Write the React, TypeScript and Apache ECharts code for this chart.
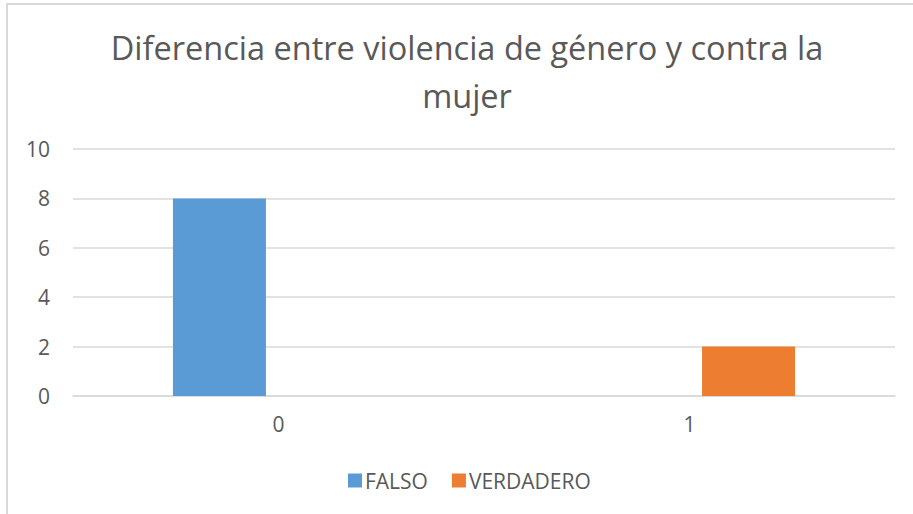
import React, { useEffect, useRef } from "react";
import * as echarts from "echarts";

const titleText = "Diferencia entre violencia de género y contra la\nmujer";
const categories = ["0", "1"];
const seriesNames = ["FALSO", "VERDADERO"];
const falsoValues = [8, 0];
const verdaderoValues = [0, 2];
const yTicks = { min: 0, max: 10, interval: 2 };

const FONT = "'Open Sans', 'Liberation Sans', sans-serif";
const TEXT = "#595959";
const GRID = "#D9D9D9";

export default function App() {
  const ref = useRef<HTMLDivElement>(null);
  useEffect(() => {
    if (!ref.current) return;
    const chart = echarts.init(ref.current, undefined, { renderer: "svg" });
    chart.setOption({
      animation: false,
      textStyle: { fontFamily: FONT },
      graphic: [
        {
          type: "rect",
          shape: { x: 7, y: 4, width: 1000, height: 1000 },
          style: { fill: "none", stroke: "#D9D9D9", lineWidth: 2 },
          silent: true,
        },
        {
          type: "text",
          x: 467,
          y: 23,
          style: {
            text: titleText,
            fill: TEXT,
            fontSize: 32.5,
            fontFamily: FONT,
            lineHeight: 48,
            textAlign: "center",
            textVerticalAlign: "top",
          },
        },
      ],
      legend: {
        data: seriesNames,
        left: 348,
        top: 470,
        padding: 0,
        itemWidth: 14,
        itemHeight: 14,
        itemGap: 24,
        icon: "rect",
        textStyle: { color: TEXT, fontSize: 21, fontFamily: FONT, padding: [0, 0, 0, -2] },
      },
      grid: { left: 73, right: 18, top: 149, bottom: 118, containLabel: false },
      xAxis: {
        type: "category",
        data: categories,
        axisLine: { show: true, lineStyle: { color: GRID, width: 1.5 } },
        axisTick: { show: false },
        axisLabel: { color: TEXT, fontSize: 21, fontFamily: FONT, margin: 17 },
      },
      yAxis: {
        type: "value",
        min: yTicks.min,
        max: yTicks.max,
        interval: yTicks.interval,
        axisLine: { show: false },
        axisTick: { show: false },
        splitLine: { lineStyle: { color: GRID, width: 1.5 } },
        axisLabel: { color: TEXT, fontSize: 21, fontFamily: FONT, margin: 23 },
      },
      series: [
        {
          name: seriesNames[0],
          type: "bar",
          data: falsoValues,
          barWidth: 93,
          barGap: "27%",
          itemStyle: { color: "#5B9BD5" },
        },
        {
          name: seriesNames[1],
          type: "bar",
          data: verdaderoValues,
          barWidth: 93,
          barGap: "27%",
          itemStyle: { color: "#ED7D31" },
        },
      ],
    });
    return () => chart.dispose();
  }, []);
  return (
    <div
      ref={ref}
      style={{ position: "absolute", left: 0, top: 0, width: 913, height: 514, background: "#fff" }}
    />
  );
}
